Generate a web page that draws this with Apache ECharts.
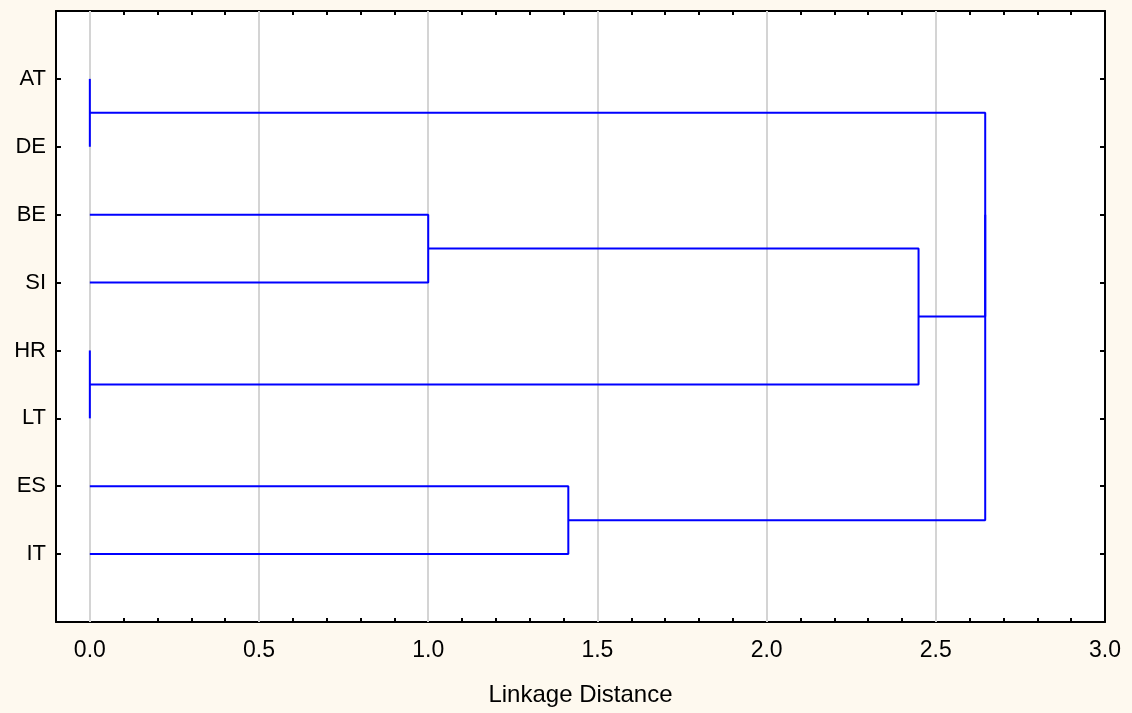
<!DOCTYPE html>
<html>
<head>
<meta charset="utf-8">
<script src="https://cdn.jsdelivr.net/npm/echarts@6/dist/echarts.min.js"></script>
<style>
html,body{margin:0;padding:0;background:#FEF9EF;}
#c{width:1132px;height:713px;}
</style>
</head>
<body>
<div id="c"></div>
<script>
// ---- data ----
const leaves = ['AT', 'DE', 'BE', 'SI', 'HR', 'LT', 'ES', 'IT'];
// cluster ids: leaves 0..7, merges 8..14 in order
const mergeLeft   = [0, 2, 4, 6, 9, 8, 13];
const mergeRight  = [1, 3, 5, 7, 10, 12, 11];
const mergeHeight = [0, 1.0, 0, 1.414, 2.449, 2.646, 2.646];
const gridValues  = [0, 0.5, 1.0, 1.5, 2.0, 2.5];
const xAxisName   = 'Linkage Distance';

// ---- build dendrogram segments ----
const pos = leaves.map((_, i) => i + 1);
const hgt = leaves.map(() => 0);
const series = [];
mergeLeft.forEach((a, k) => {
  const b = mergeRight[k], h = mergeHeight[k];
  series.push({
    type: 'line', xAxisIndex: 0, yAxisIndex: 0, z: 5,
    showSymbol: false, symbol: 'none', silent: true, animation: false,
    lineStyle: { color: '#0000FF', width: 2 },
    data: [[hgt[a], pos[a]], [h, pos[a]], [h, pos[b]], [hgt[b], pos[b]]]
  });
  pos.push((pos[a] + pos[b]) / 2);
  hgt.push(h);
});
// grid lines
series.unshift({
  type: 'line', xAxisIndex: 0, yAxisIndex: 0, z: 1, data: [], silent: true, animation: false,
  markLine: {
    silent: true, symbol: ['none', 'none'], label: { show: false }, animation: false,
    lineStyle: { color: '#D4D4D4', width: 2, type: 'solid' },
    data: gridValues.map(v => ({ xAxis: v }))
  }
});

const font = 'Liberation Sans, Arial, sans-serif';
const chart = echarts.init(document.getElementById('c'), null, { renderer: 'canvas' });
const xCommon = {
  type: 'value', min: -0.1, max: 3.0, interval: 0.1,
  axisLine: { show: true, onZero: false, lineStyle: { color: '#000', width: 2 } },
  axisTick: { show: true, inside: true, length: 4, lineStyle: { color: '#000', width: 2 } },
  splitLine: { show: false }
};
const yCommon = {
  type: 'value', min: 0, max: 9, interval: 1, inverse: true,
  axisLine: { show: true, onZero: false, lineStyle: { color: '#000', width: 2 } },
  axisTick: { show: true, inside: true, length: 5, lineStyle: { color: '#000', width: 2 } },
  splitLine: { show: false }
};
chart.setOption({
  backgroundColor: '#FEF9EF',
  animation: false,
  grid: { left: 56, right: 27, top: 11, bottom: 91, show: true, backgroundColor: '#FFFFFF', borderWidth: 0 },
  xAxis: [
    Object.assign({}, xCommon, {
      position: 'bottom',
      name: xAxisName, nameLocation: 'middle', nameGap: 61,
      nameTextStyle: { color: '#000', fontSize: 24, fontFamily: font },
      axisLabel: {
        show: true, margin: 17, color: '#000', fontSize: 23, fontFamily: font,
        formatter: v => { const r = Math.round(v * 10); return (r >= 0 && r % 5 === 0) ? (r / 10).toFixed(1) : ''; }
      }
    }),
    Object.assign({}, xCommon, { position: 'top', axisLabel: { show: false } })
  ],
  yAxis: [
    Object.assign({}, yCommon, {
      position: 'left',
      axisLabel: {
        show: true, margin: 10, color: '#000', fontSize: 22, fontFamily: font,
        formatter: v => (v >= 1 && v <= leaves.length) ? leaves[v - 1] : ''
      }
    }),
    Object.assign({}, yCommon, { position: 'right', axisLabel: { show: false } })
  ],
  series: series
});
</script>
</body>
</html>
